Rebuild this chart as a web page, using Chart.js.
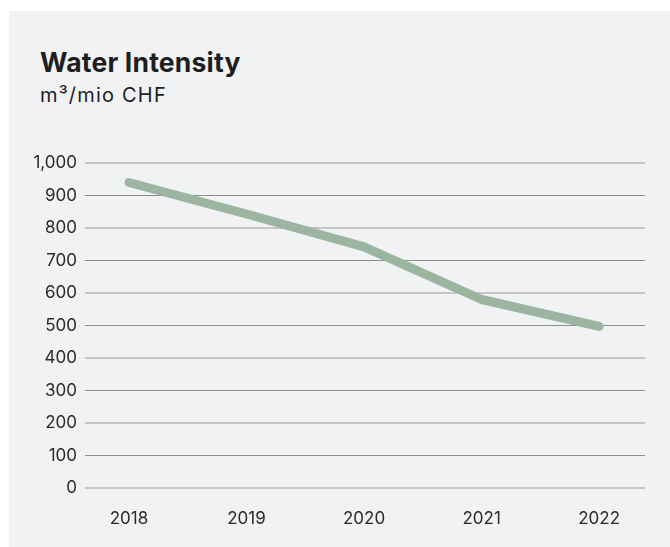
<!DOCTYPE html>
<html>
<head>
<meta charset="utf-8">
<script src="https://cdn.jsdelivr.net/npm/chart.js@4.4.1/dist/chart.umd.min.js"></script>
<style>
  html, body { margin: 0; padding: 0; background: #ffffff; }
  body { width: 670px; height: 547px; position: relative; overflow: hidden; font-family: Inter, "Open Sans", sans-serif; }
  .panel { position: absolute; left: 9px; top: 11px; width: 661px; height: 536px; background: #f1f2f4; }
  .title { position: absolute; left: 40px; top: 49px; font-size: 26.5px; font-weight: 700; color: #1e1e1e; letter-spacing: 0.2px; line-height: 1; }
  .subtitle { position: absolute; left: 40px; top: 85px; font-size: 20px; font-weight: 400; color: #1e1e1e; letter-spacing: 1.2px; line-height: 1; }
  #chart { position: absolute; left: 0; top: 0; }
</style>
</head>
<body>
<div class="panel"></div>
<div class="title">Water Intensity</div>
<div class="subtitle">m³/mio CHF</div>
<canvas id="chart" width="670" height="547"></canvas>
<script>
// Water intensity per year (m³ per million CHF)
const years = [2018, 2019, 2020, 2021, 2022];
const intensity = [940, 843, 742, 580, 497];
const yTicks = [0, 100, 200, 300, 400, 500, 600, 700, 800, 900, 1000];

const points = years.map((y, i) => ({ x: y, y: intensity[i] }));

new Chart(document.getElementById('chart'), {
  type: 'line',
  data: {
    datasets: [{
      data: points,
      borderColor: '#9cb5a0',
      borderWidth: 9,
      borderCapStyle: 'round',
      borderJoinStyle: 'round',
      pointRadius: 0,
      tension: 0,
      fill: false
    }]
  },
  options: {
    responsive: false,
    animation: false,
    devicePixelRatio: 1,
    layout: { padding: { left: 0, right: 25, top: 163, bottom: 0 } },
    plugins: { legend: { display: false }, tooltip: { enabled: false }, title: { display: false } },
    scales: {
      x: {
        type: 'linear',
        min: 2017.626,
        max: 2022.39,
        afterBuildTicks: s => { s.ticks = years.map(v => ({ value: v })); },
        afterFit: s => { s.height = 59; },
        grid: { display: false, drawTicks: false },
        border: { display: false },
        ticks: {
          padding: 21,
          color: '#2a2a2a',
          font: { family: 'Inter', size: 17 },
          callback: v => String(v)
        }
      },
      y: {
        min: 0,
        max: 1000,
        afterBuildTicks: s => { s.ticks = yTicks.map(v => ({ value: v })); },
        afterFit: s => { s.width = 85; },
        grid: {
          drawTicks: false,
          color: c => (c.index % 2 === 0 ? '#c6c6c8' : '#8e8e90'),
          lineWidth: c => (c.index % 2 === 0 ? 2 : 1)
        },
        border: { display: false },
        ticks: {
          padding: 8,
          color: '#2a2a2a',
          font: { family: 'Inter', size: 17 },
          callback: v => v.toLocaleString('en-US')
        }
      }
    }
  }
});
</script>
</body>
</html>
